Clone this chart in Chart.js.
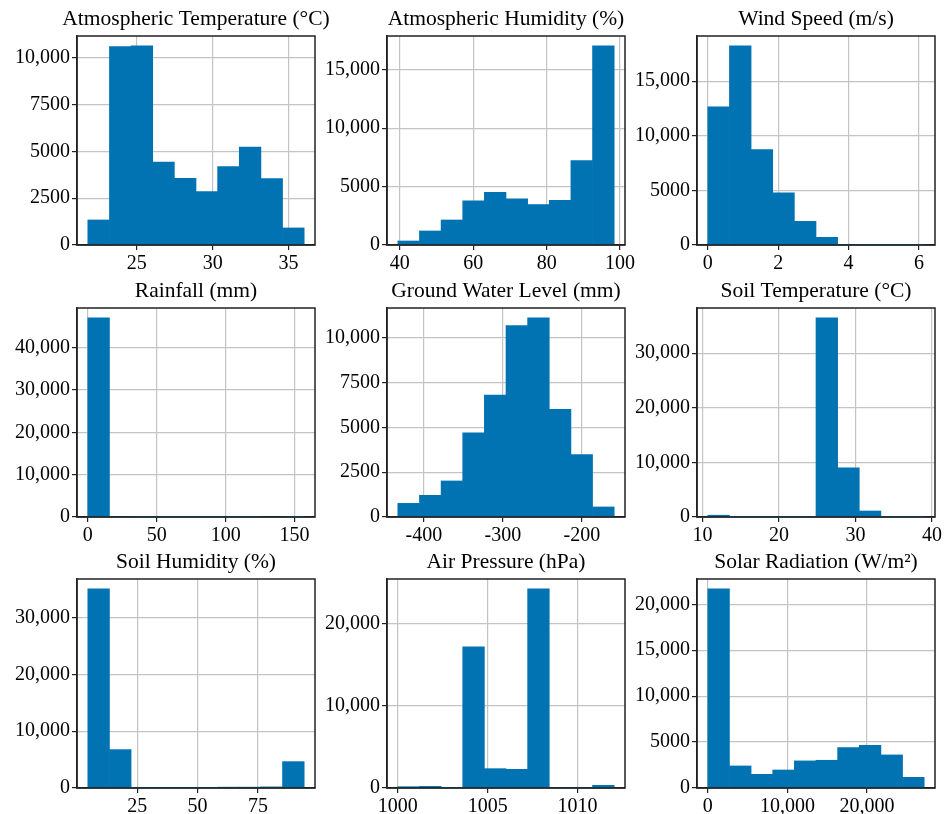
<!DOCTYPE html>
<html><head><meta charset="utf-8">
<script src="https://cdn.jsdelivr.net/npm/chart.js@4.4.1/dist/chart.umd.min.js"></script>
<style>
html,body{margin:0;padding:0;background:#fff;width:945px;height:814px;overflow:hidden;}
canvas{position:absolute;display:block;}
</style></head><body>
<script>
// ---------- DATA ----------
const atmTempEdges = [21.77, 36.03];
const atmTempCounts = [1335, 10590, 10620, 4430, 3560, 2850, 4180, 5230, 3540, 910];
const atmTempXTicks = [25, 30, 35];
const atmTempYTicks = [0, 2500, 5000, 7500, 10000];

const atmHumEdges = [39.46, 98.4];
const atmHumCounts = [343, 1200, 2140, 3770, 4510, 3940, 3460, 3830, 7230, 17030];
const atmHumXTicks = [40, 60, 80, 100];
const atmHumYTicks = [0, 5000, 10000, 15000];

const windEdges = [0, 6.15];
const windCounts = [12660, 18230, 8750, 4770, 2170, 700, 40, 15, 8, 3];
const windXTicks = [0, 2, 4, 6];
const windYTicks = [0, 5000, 10000, 15000];

const rainEdges = [0, 157];
const rainCounts = [47000, 150, 40, 15, 8, 4, 2, 1, 0, 1];
const rainXTicks = [0, 50, 100, 150];
const rainYTicks = [0, 10000, 20000, 30000, 40000];

const gwlEdges = [-433, -159];
const gwlCounts = [760, 1210, 2010, 4700, 6800, 10670, 11100, 6000, 3480, 560];
const gwlXTicks = [-400, -300, -200];
const gwlYTicks = [0, 2500, 5000, 7500, 10000];

const soilTempEdges = [10.68, 38.98];
const soilTempCounts = [330, 10, 5, 5, 20, 36440, 9000, 1100, 60, 20];
const soilTempXTicks = [10, 20, 30, 40];
const soilTempYTicks = [0, 10000, 20000, 30000];

const soilHumEdges = [4.6, 94.1];
const soilHumCounts = [35000, 6750, 40, 60, 20, 20, 150, 150, 200, 4640];
const soilHumXTicks = [25, 50, 75];
const soilHumYTicks = [0, 10000, 20000, 30000];

const pressureEdges = [1000.0, 1012.04];
const pressureCounts = [160, 200, 20, 17230, 2360, 2280, 24280, 80, 60, 330];
const pressureXTicks = [1000, 1005, 1010];
const pressureYTicks = [0, 10000, 20000];

const solarEdges = [0, 27180];
const solarCounts = [21670, 2400, 1490, 1960, 2950, 3020, 4400, 4650, 3600, 1160];
const solarXTicks = [0, 10000, 20000];
const solarYTicks = [0, 5000, 10000, 15000, 20000];

const titles = [
  'Atmospheric Temperature (°C)', 'Atmospheric Humidity (%)', 'Wind Speed (m/s)',
  'Rainfall (mm)', 'Ground Water Level (mm)', 'Soil Temperature (°C)',
  'Soil Humidity (%)', 'Air Pressure (hPa)', 'Solar Radiation (W/m²)'
];

const panels = [
  [atmTempEdges, atmTempCounts, atmTempXTicks, atmTempYTicks],
  [atmHumEdges, atmHumCounts, atmHumXTicks, atmHumYTicks],
  [windEdges, windCounts, windXTicks, windYTicks],
  [rainEdges, rainCounts, rainXTicks, rainYTicks],
  [gwlEdges, gwlCounts, gwlXTicks, gwlYTicks],
  [soilTempEdges, soilTempCounts, soilTempXTicks, soilTempYTicks],
  [soilHumEdges, soilHumCounts, soilHumXTicks, soilHumYTicks],
  [pressureEdges, pressureCounts, pressureXTicks, pressureYTicks],
  [solarEdges, solarCounts, solarXTicks, solarYTicks]
];

// ---------- LAYOUT / STYLE ----------
const PLOT_LEFTS = [77, 387, 697];
const PLOT_TOPS = [36, 308, 579];
const PLOT_W = 238, PLOT_H = 209;
const GUTTER = 77, TITLE_H = 36, BOTTOM_GUTTER = 32;
const SERIF = "'Liberation Serif', 'Times New Roman', Times, serif";
const BLUE = '#0173b2';
const GRID = '#c4c4c4';
const SPINE = '#222';

function fmt(v) {
  return Math.abs(v) >= 10000 ? Number(v).toLocaleString('en-US') : String(v);
}

const framePlugin = {
  id: 'frame',
  afterDraw(chart) {
    const {ctx, chartArea: a} = chart;
    ctx.save();
    ctx.strokeStyle = SPINE;
    ctx.lineWidth = 1.5;
    ctx.strokeRect(a.left, a.top, a.right - a.left, a.bottom - a.top);
    ctx.restore();
  }
};

panels.forEach((p, idx) => {
  const [edges, counts, xTicks, yTicks] = p;
  const [lo, hi] = edges;
  const n = counts.length;
  const w = (hi - lo) / n;
  const centers = counts.map((_, i) => lo + (i + 0.5) * w);
  const xMin = lo - 0.05 * (hi - lo);
  const xMax = hi + 0.05 * (hi - lo);
  const yMax = Math.max(...counts) * 1.05;

  const col = idx % 3, row = Math.floor(idx / 3);
  const cv = document.createElement('canvas');
  const cw = GUTTER + PLOT_W + GUTTER;
  const ch = TITLE_H + PLOT_H + BOTTOM_GUTTER;
  cv.width = cw; cv.height = ch;
  cv.style.width = cw + 'px'; cv.style.height = ch + 'px';
  cv.style.left = (PLOT_LEFTS[col] - GUTTER) + 'px';
  cv.style.top = (PLOT_TOPS[row] - TITLE_H) + 'px';
  document.body.appendChild(cv);

  const tickFont = {family: SERIF, size: 20, weight: 'normal'};

  new Chart(cv, {
    type: 'bar',
    data: {
      datasets: [{
        data: centers.map((x, i) => ({x: x, y: counts[i]})),
        backgroundColor: BLUE,
        borderWidth: 0,
        barPercentage: 1,
        categoryPercentage: 1,
        grouped: false
      }]
    },
    options: {
      responsive: false,
      animation: false,
      devicePixelRatio: 1,
      layout: {padding: 0},
      plugins: {
        legend: {display: false},
        tooltip: {enabled: false},
        title: {
          display: true, text: titles[idx], fullSize: true, color: '#000',
          font: {family: SERIF, size: 21.5, weight: 'normal', lineHeight: 1.2},
          padding: {top: 6.8, bottom: 3.4}
        }
      },
      scales: {
        x: {
          type: 'linear', min: xMin, max: xMax, offset: false, z: 1,
          grid: {offset: false, color: GRID, lineWidth: 1.2, tickLength: 5, tickColor: SPINE, tickWidth: 1.2},
          border: {display: true, color: SPINE, width: 1.5},
          ticks: {font: tickFont, color: '#000', padding: 2, maxRotation: 0, autoSkip: false, callback: v => fmt(v)},
          afterBuildTicks: s => { s.ticks = xTicks.map(v => ({value: v})); },
          afterFit: s => { s.height = BOTTOM_GUTTER; s.paddingLeft = 0; s.paddingRight = 0; }
        },
        y: {
          type: 'linear', position: 'left', min: 0, max: yMax, z: 1,
          grid: {color: GRID, lineWidth: 1.2, tickLength: 5, tickColor: SPINE, tickWidth: 1.2},
          border: {display: true, color: SPINE, width: 1.5},
          ticks: {font: tickFont, color: '#000', padding: 2, autoSkip: false, callback: v => fmt(v)},
          afterBuildTicks: s => { s.ticks = yTicks.map(v => ({value: v})); },
          afterFit: s => { s.width = GUTTER; s.paddingTop = 0; s.paddingBottom = 0; }
        },
        spacer: {
          type: 'linear', position: 'right', display: true,
          grid: {display: false, drawTicks: false},
          border: {display: false},
          ticks: {display: false},
          afterFit: s => { s.width = GUTTER; s.paddingTop = 0; s.paddingBottom = 0; }
        }
      }
    },
    plugins: [framePlugin]
  });
});
</script>
</body></html>
